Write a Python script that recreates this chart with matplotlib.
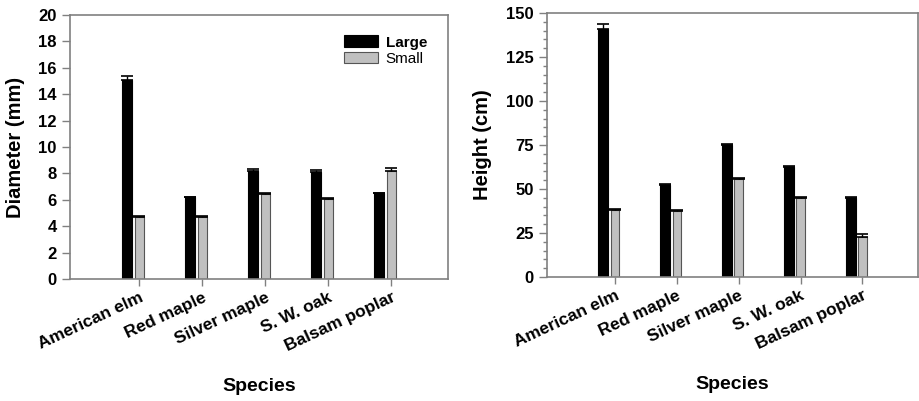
import matplotlib
matplotlib.use("Agg")
import matplotlib.pyplot as plt
import numpy as np

# ── Data ───────────────────────────────────────────────
species = ["American elm", "Red maple", "Silver maple", "S. W. oak", "Balsam poplar"]

diam_large = [15.1, 6.2, 8.2, 8.1, 6.5]
diam_large_err = [0.3, 0.05, 0.12, 0.12, 0.05]
diam_small = [4.7, 4.7, 6.45, 6.05, 8.2]
diam_small_err = [0.05, 0.05, 0.05, 0.1, 0.2]

height_large = [141.0, 52.3, 75.0, 62.5, 45.0]
height_large_err = [2.7, 0.5, 0.5, 0.5, 0.5]
height_small = [38.0, 37.7, 55.7, 45.0, 22.7]
height_small_err = [0.5, 0.5, 0.5, 0.5, 1.9]

plt.rcParams.update({
    "font.family": ["Liberation Sans", "DejaVu Sans"],
    "font.weight": "bold",
})

SPINE = "#808080"
GREY = "#c0c0c0"

fig = plt.figure(figsize=(9.19, 4.01), dpi=100)
ax1 = fig.add_axes([70 / 919, 122 / 401, 378 / 919, 264 / 401])
ax2 = fig.add_axes([547 / 919, 124 / 401, 371 / 919, 264 / 401])

x = np.arange(1, len(species) + 1)


def draw(ax, large, large_err, small, small_err, ymax, step, minor, ylabel, ylab_x):
    ax.bar(x - 0.09, large, width=0.16, color="black", edgecolor="black",
           linewidth=0.8, label="Large",
           yerr=[np.zeros(len(large)), large_err],
           error_kw=dict(capsize=4, elinewidth=1, capthick=1.2, ecolor="black"))
    ax.bar(x + 0.1, small, width=0.14, color=GREY, edgecolor="#555555",
           linewidth=0.8, label="Small",
           yerr=[np.zeros(len(small)), small_err],
           error_kw=dict(capsize=4, elinewidth=1, capthick=1.2, ecolor="black"))
    ax.set_xlim(0, len(species) + 1)
    ax.set_ylim(0, ymax)
    ax.set_yticks(np.arange(0, ymax + 1, step))
    if minor:
        ax.set_yticks(np.arange(0, ymax + 1, minor), minor=True)
    ax.set_xticks(x + 0.1)
    ax.set_xticklabels(species, rotation=25, ha="right", rotation_mode="anchor",
                       fontsize=12.5, fontweight="bold")
    ax.tick_params(axis="y", labelsize=12, length=6, color=SPINE, width=1)
    ax.tick_params(axis="y", which="minor", length=3, color=SPINE, width=1)
    ax.tick_params(axis="x", length=5, color=SPINE, width=1, pad=3)
    for s in ax.spines.values():
        s.set_color(SPINE)
        s.set_linewidth(1.2)
    ax.set_ylabel(ylabel, fontsize=14.5, fontweight="bold")
    ax.set_xlabel("Species", fontsize=14, fontweight="bold")
    ax.xaxis.set_label_coords(0.5, -0.375)
    ax.yaxis.set_label_coords(ylab_x, 0.5)


draw(ax1, diam_large, diam_large_err, diam_small, diam_small_err,
     20, 2, None, "Diameter (mm)", -0.12)
draw(ax2, height_large, height_large_err, height_small, height_small_err,
     150, 25, 5, "Height (cm)", -0.148)

leg = ax1.legend(loc="upper right", bbox_to_anchor=(0.981, 0.975), frameon=False,
                 fontsize=11, handlelength=2.2, handleheight=0.8,
                 labelspacing=0.15, handletextpad=0.5)
leg.get_texts()[0].set_fontweight("bold")
leg.get_texts()[1].set_fontweight("normal")

fig.savefig("out.png", dpi=100)
